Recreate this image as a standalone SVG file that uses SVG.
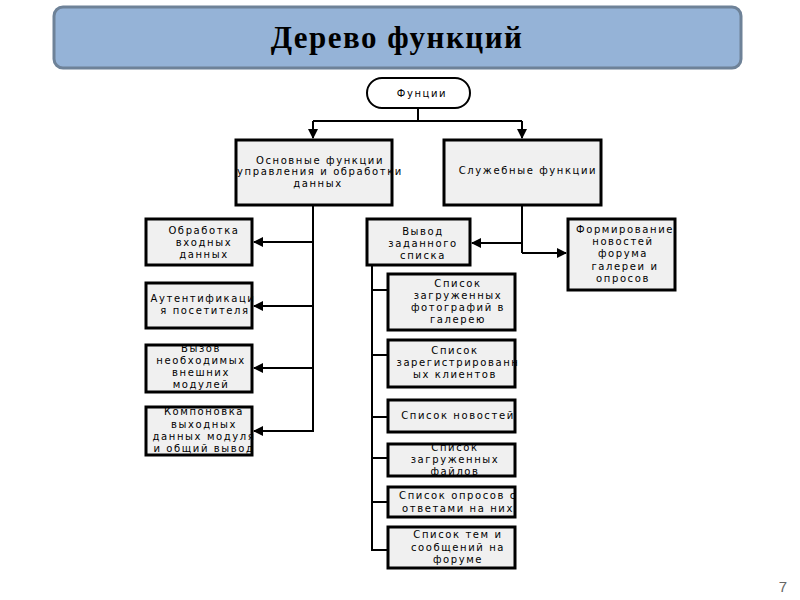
<svg xmlns="http://www.w3.org/2000/svg" width="800" height="600" viewBox="0 0 800 600">
<style>
.box{fill:#f0f0f0;stroke:#000;stroke-width:3}
.t{font-family:"DejaVu Sans",sans-serif;font-size:10px;letter-spacing:1.6px;fill:#000;text-anchor:middle}
.ln{fill:none;stroke:#000;stroke-width:2}
</style>
<defs>
<marker id="ah" viewBox="0 0 10 10" refX="9" refY="5" markerWidth="5" markerHeight="5" orient="auto" markerUnits="strokeWidth">
<path d="M0,0 L10,5 L0,10 Z" fill="#000"/>
</marker>
</defs>
<rect width="800" height="600" fill="#fff"/>
<g id="title">
<rect x="54" y="7" width="687" height="61" rx="9" fill="#95b3d7" stroke="#6e8298" stroke-width="3"/>
<text x="397" y="48" font-family="Liberation Serif,serif" font-weight="bold" font-size="31" letter-spacing="1.5" text-anchor="middle" fill="#000">Дерево функций</text>
</g>
<g id="connectors">
<path class="ln" d="M418,108 V121 M313,121 H522"/>
<path class="ln" d="M313,121 V138" marker-end="url(#ah)"/>
<path class="ln" d="M522,121 V138" marker-end="url(#ah)"/>
<path class="ln" d="M313,205 V432"/>
<path class="ln" d="M313,242 H254" marker-end="url(#ah)"/>
<path class="ln" d="M313,306 H254" marker-end="url(#ah)"/>
<path class="ln" d="M313,368 H254" marker-end="url(#ah)"/>
<path class="ln" d="M313,431 H254" marker-end="url(#ah)"/>
<path class="ln" d="M522,205 V253"/>
<path class="ln" d="M522,243 H472" marker-end="url(#ah)"/>
<path class="ln" d="M522,253 H566" marker-end="url(#ah)"/>
<path class="ln" d="M372,265 V551"/>
<path class="ln" d="M372,290 H388 M372,355 H388 M372,417 H388 M372,458 H388 M372,502 H388 M372,550 H388"/>
</g>
<g id="root">
<rect x="367" y="78" width="103" height="30" rx="15" fill="#fff" stroke="#000" stroke-width="2"/>
<text class="t" x="422" y="97">Фунции</text>
</g>
<g id="main">
<rect class="box" x="236" y="140" width="156" height="65"/>
<text class="t" x="320" y="164">Основные функции</text>
<text class="t" x="320" y="175">управления и обработки</text>
<text class="t" x="318" y="187">данных</text>
</g>
<g id="service">
<rect class="box" x="444" y="140" width="157" height="65"/>
<text class="t" x="528" y="174">Служебные функции</text>
</g>
<g id="n1">
<rect class="box" x="146" y="219" width="106" height="46"/>
<text class="t" x="204" y="234">Обработка</text>
<text class="t" x="204" y="246">входных</text>
<text class="t" x="204" y="258">данных</text>
</g>
<g id="n2">
<rect class="box" x="146" y="283" width="106" height="45"/>
<text class="t" x="203" y="302">Аутентификаци</text>
<text class="t" x="205" y="314">я посетителя</text>
</g>
<g id="n3">
<rect class="box" x="146" y="345" width="106" height="47"/>
<text class="t" x="201" y="352">Вызов</text>
<text class="t" x="201" y="364">необходимых</text>
<text class="t" x="201" y="376">внешних</text>
<text class="t" x="201" y="388">модулей</text>
</g>
<g id="n4">
<rect class="box" x="146" y="407" width="106" height="48"/>
<text class="t" x="204" y="415">Компоновка</text>
<text class="t" x="204" y="428">выходных</text>
<text class="t" x="204" y="440">данных модуля</text>
<text class="t" x="204" y="452">и общий вывод</text>
</g>
<g id="output">
<rect class="box" x="367" y="219" width="103" height="46"/>
<text class="t" x="423" y="235">Вывод</text>
<text class="t" x="423" y="247">заданного</text>
<text class="t" x="423" y="259">списка</text>
</g>
<g id="forming">
<rect class="box" x="568" y="219" width="107" height="71"/>
<text class="t" x="625" y="233">Формирование</text>
<text class="t" x="623" y="245">новостей</text>
<text class="t" x="623" y="257">форума</text>
<text class="t" x="625" y="270">галереи и</text>
<text class="t" x="623" y="282">опросов</text>
</g>
<g id="c1">
<rect class="box" x="388" y="274" width="127" height="56"/>
<text class="t" x="458" y="287">Список</text>
<text class="t" x="458" y="299">загруженных</text>
<text class="t" x="458" y="311">фотографий в</text>
<text class="t" x="458" y="323">галерею</text>
</g>
<g id="c2">
<rect class="box" x="388" y="340" width="127" height="47"/>
<text class="t" x="455" y="354">Список</text>
<text class="t" x="458" y="366">зарегистрированн</text>
<text class="t" x="455" y="378">ых клиентов</text>
</g>
<g id="c3">
<rect class="box" x="388" y="400" width="127" height="32"/>
<text class="t" x="458" y="419">Список новостей</text>
</g>
<g id="c4">
<rect class="box" x="388" y="444" width="127" height="32"/>
<text class="t" x="455" y="451">Список</text>
<text class="t" x="455" y="463">загруженных</text>
<text class="t" x="455" y="475">файлов</text>
</g>
<g id="c5">
<rect class="box" x="388" y="487" width="127" height="30"/>
<text class="t" x="458" y="499">Список опросов с</text>
<text class="t" x="458" y="512">ответами на них</text>
</g>
<g id="c6">
<rect class="box" x="388" y="527" width="127" height="41"/>
<text class="t" x="458" y="538">Список тем и</text>
<text class="t" x="458" y="551">сообщений на</text>
<text class="t" x="458" y="563">форуме</text>
</g>
<text x="783" y="592" font-family="Liberation Sans,sans-serif" font-size="15" fill="#666" text-anchor="middle">7</text>
</svg>
